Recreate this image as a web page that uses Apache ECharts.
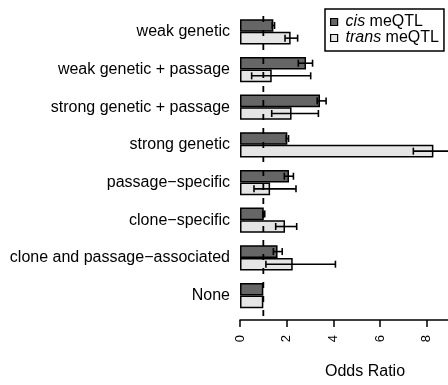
<!DOCTYPE html>
<html>
<head>
<meta charset="utf-8">
<script src="https://cdn.jsdelivr.net/npm/echarts@6/dist/echarts.min.js"></script>
<style>
  html, body { margin: 0; padding: 0; background: #fff; }
  #chart { width: 448px; height: 385px; }
</style>
</head>
<body>
<div id="chart"></div>
<script>
// Odds ratios of cis / trans meQTL enrichment per methylation category
const categories = [
  'weak genetic',
  'weak genetic + passage',
  'strong genetic + passage',
  'strong genetic',
  'passage\u2212specific',
  'clone\u2212specific',
  'clone and passage\u2212associated',
  'None'
];
const cisOR   = [1.43, 2.83, 3.43, 2.03, 2.10, 1.02, 1.61, 1.00];
const cisLow  = [1.38, 2.50, 3.31, 1.98, 1.90, 0.98, 1.43, null];
const cisHigh = [1.48, 3.11, 3.69, 2.08, 2.29, 1.06, 1.81, null];
const transOR   = [2.17, 1.36, 2.21, 8.29, 1.29, 1.93, 2.26, 1.00];
const transLow  = [1.93, 0.50, 1.36, 7.43, 0.60, 1.53, 1.11, null];
const transHigh = [2.47, 3.03, 3.36, 9.40, 2.40, 2.43, 4.09, null];
const xTicks = [0, 2, 4, 6, 8, 10];
const referenceOR = 1;

const FONT = '"Liberation Sans", Arial, Helvetica, sans-serif';
const CAT_GAP = 0.33;

const chart = echarts.init(document.getElementById('chart'));

// error bars: side = -1 for upper (cis) bar, +1 for lower (trans) bar
function errorBars(low, high, side) {
  return {
    type: 'custom',
    xAxisIndex: 0,
    yAxisIndex: 0,
    z: 5,
    data: low.map((lo, i) => [i, lo, high[i]]).filter(d => d[1] != null),
    encode: { y: 0, x: [1, 2] },
    renderItem(params, api) {
      const cat = api.value(0);
      const p1 = api.coord([api.value(1), cat]);
      const p2 = api.coord([api.value(2), cat]);
      const band = api.size([0, 1])[1];
      const off = side * band * (1 - CAT_GAP) / 4;
      const y = p1[1] + off;
      const cap = 3.5;
      const style = { stroke: '#000', lineWidth: 1.6, fill: null };
      return {
        type: 'group',
        children: [
          { type: 'line', shape: { x1: p1[0], y1: y, x2: p2[0], y2: y }, style },
          { type: 'line', shape: { x1: p1[0], y1: y - cap, x2: p1[0], y2: y + cap }, style },
          { type: 'line', shape: { x1: p2[0], y1: y - cap, x2: p2[0], y2: y + cap }, style }
        ]
      };
    }
  };
}

chart.setOption({
  animation: false,
  backgroundColor: '#fff',
  textStyle: { fontFamily: FONT },
  grid: [
    { left: 240, width: 233.3, top: 13, height: 301.4, outerBoundsMode: 'none', containLabel: false },
    { left: 240, width: 233.3, top: 8, height: 308, outerBoundsMode: 'none', containLabel: false }
  ],
  legend: {
    data: ['cis meQTL', 'trans meQTL'],
    orient: 'vertical',
    left: 325,
    top: 9,
    padding: [5, 5, 5, 5],
    itemGap: 0,
    itemWidth: 7,
    itemHeight: 7,
    borderColor: '#000',
    borderWidth: 1.5,
    icon: 'rect',
    itemStyle: { borderColor: '#000', borderWidth: 1.2 },
    formatter: name => name.replace(/^(\w+)/, '{i|$1}'),
    textStyle: {
      fontFamily: FONT,
      fontSize: 16,
      color: '#000',
      lineHeight: 12.5,
      padding: [0, 0, 0, 3],
      rich: { i: { fontStyle: 'italic', fontSize: 16, fontFamily: FONT, lineHeight: 12.5 } }
    }
  },
  xAxis: [
    {
      gridIndex: 0,
      type: 'value',
      min: 0,
      max: 10,
      interval: 2,
      offset: 5.5,
      splitLine: { show: false },
      axisLine: { show: true, lineStyle: { color: '#000', width: 1.5 } },
      axisTick: { show: true, length: 7, lineStyle: { color: '#000', width: 1.5 } },
      axisLabel: {
        rotate: 90,
        margin: 15,
        fontSize: 13,
        color: '#000',
        fontFamily: FONT,
        formatter: v => (xTicks.includes(v) ? String(v) : '')
      }
    },
    {
      gridIndex: 1,
      type: 'value',
      min: 0,
      max: 10,
      show: false
    }
  ],
  yAxis: [
    {
      gridIndex: 0,
      type: 'category',
      data: categories,
      inverse: true,
      axisLine: { show: false },
      axisTick: { show: false },
      axisLabel: { fontSize: 16, color: '#000', margin: 10, fontFamily: FONT }
    },
    {
      gridIndex: 1,
      type: 'value',
      min: 0,
      max: 1,
      show: false
    }
  ],
  graphic: [
    {
      type: 'text',
      left: 325,
      top: 364,
      style: { text: 'Odds Ratio', fontSize: 16, fill: '#000', fontFamily: FONT }
    }
  ],
  series: [
    {
      name: 'cis meQTL',
      type: 'bar',
      data: cisOR,
      barCategoryGap: (CAT_GAP * 100) + '%',
      barGap: '0%',
      itemStyle: { color: '#666666', borderColor: '#000', borderWidth: 1.5 }
    },
    {
      name: 'trans meQTL',
      type: 'bar',
      data: transOR,
      barCategoryGap: (CAT_GAP * 100) + '%',
      barGap: '0%',
      itemStyle: { color: '#e5e5e5', borderColor: '#000', borderWidth: 1.5 }
    },
    errorBars(cisLow, cisHigh, -1),
    errorBars(transLow, transHigh, 1),
    {
      // dashed reference line at OR = 1
      type: 'line',
      xAxisIndex: 1,
      yAxisIndex: 1,
      z: 6,
      symbol: 'none',
      data: [[referenceOR, 0], [referenceOR, 1]],
      lineStyle: { color: '#000', width: 1.8, type: [6, 8] }
    }
  ]
});
</script>
</body>
</html>
